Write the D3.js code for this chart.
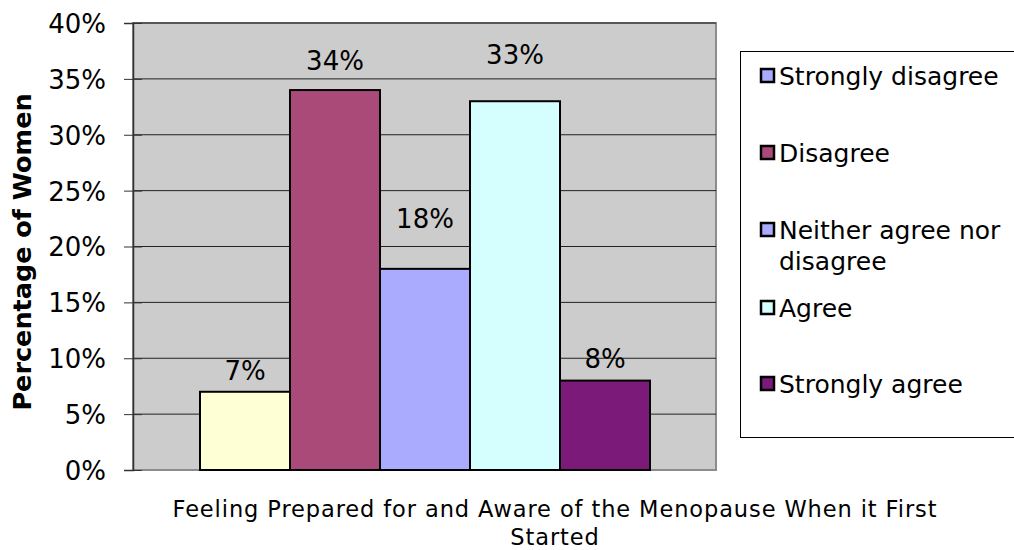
<!DOCTYPE html>
<html lang="en">
<head>
    <meta charset="UTF-8">
    <title>Feeling Prepared for and Aware of the Menopause</title>
    <script src="https://d3js.org/d3.v7.min.js"></script>
    <style>
        body { margin: 0; background: white; overflow: hidden; }
        text { font-family: "DejaVu Sans", Verdana, sans-serif; fill: #000; }
    </style>
</head>
<body>
    <svg id="chart"></svg>
    <script>
        // data
        var categories = ["Strongly disagree", "Disagree", "Neither agree nor disagree", "Agree", "Strongly agree"];
        var values = [7, 34, 18, 33, 8];
        var barColors = ["#FFFFD5", "#AA4A78", "#AAAAFF", "#D5FFFF", "#7B1A79"];
        var legendColors = ["#AAAAFF", "#AA4A78", "#AAAAFF", "#D5FFFF", "#7B1A79"];
        var yTicks = [0, 5, 10, 15, 20, 25, 30, 35, 40];

        // how far each value label sits above its bar (layout only)
        var labelLift = [12, 20, 41, 37, 13];

        var width = 1014, height = 550;
        var svg = d3.select("#chart").attr("width", width).attr("height", height);

        var plot = { left: 133, top: 23, right: 716, bottom: 470 };

        var y = d3.scaleLinear().domain([0, 40]).range([plot.bottom, plot.top]);
        var x = d3.scaleBand().domain(categories).range([200, 650]).padding(0);

        // plot background
        svg.append("rect")
            .attr("x", plot.left).attr("y", plot.top)
            .attr("width", plot.right - plot.left).attr("height", plot.bottom - plot.top)
            .attr("fill", "#CCCCCC").attr("stroke", "#8C8C8C").attr("stroke-width", 2);

        // gridlines
        svg.append("g").selectAll("line")
            .data(yTicks.slice(1))
            .enter().append("line")
            .attr("x1", plot.left).attr("x2", plot.right)
            .attr("y1", d => y(d)).attr("y2", d => y(d))
            .attr("stroke", "#222").attr("stroke-width", 1);

        // y axis, ticks cross the axis line
        var yAxis = d3.axisLeft(y).tickValues(yTicks).tickSize(9).tickPadding(18)
            .tickFormat(d => d + "%");
        var yg = svg.append("g").attr("transform", "translate(" + plot.left + ",0)").call(yAxis);
        yg.select(".domain").attr("stroke", "#333").attr("stroke-width", 1.5);
        yg.selectAll(".tick line").attr("stroke", "#333").attr("x1", 9);
        yg.selectAll("text").style("font-size", "26px").attr("fill", "#000")
            .attr("dy", "0.36em")
            .style("font-family", "'DejaVu Sans', Verdana, sans-serif");

        // bars
        svg.append("g").selectAll("rect")
            .data(values)
            .enter().append("rect")
            .attr("x", (d, i) => x(categories[i]))
            .attr("y", d => y(d))
            .attr("width", x.bandwidth())
            .attr("height", d => plot.bottom - y(d))
            .attr("fill", (d, i) => barColors[i])
            .attr("stroke", "#000").attr("stroke-width", 2);

        // value labels
        svg.append("g").selectAll("text")
            .data(values)
            .enter().append("text")
            .attr("x", (d, i) => x(categories[i]) + x.bandwidth() / 2)
            .attr("y", (d, i) => y(d) - labelLift[i])
            .attr("text-anchor", "middle")
            .style("font-size", "26px")
            .text(d => d + "%");

        // axis titles
        svg.append("text")
            .attr("transform", "translate(31,252) rotate(-90)")
            .attr("text-anchor", "middle")
            .style("font-size", "25.5px").style("font-weight", "bold")
            .text("Percentage of Women");

        var xTitle = svg.append("text")
            .attr("text-anchor", "middle")
            .style("font-size", "22.5px")
            .style("letter-spacing", "0.9px");
        xTitle.append("tspan").attr("x", 555).attr("y", 517)
            .text("Feeling Prepared for and Aware of the Menopause When it First");
        xTitle.append("tspan").attr("x", 555).attr("y", 545).text("Started");

        // legend
        svg.append("rect")
            .attr("x", 740.5).attr("y", 51.5).attr("width", 290).attr("height", 386)
            .attr("fill", "white").attr("stroke", "#000").attr("stroke-width", 1);

        var legendRows = [
            { lines: ["Strongly disagree"], y: 85 },
            { lines: ["Disagree"], y: 162 },
            { lines: ["Neither agree nor", "disagree"], y: 239 },
            { lines: ["Agree"], y: 317 },
            { lines: ["Strongly agree"], y: 393 }
        ];
        var lg = svg.append("g").selectAll("g")
            .data(legendRows)
            .enter().append("g");
        lg.append("rect")
            .attr("x", 761).attr("y", d => d.y - 16)
            .attr("width", 13).attr("height", 13)
            .attr("fill", (d, i) => legendColors[i])
            .attr("stroke", "#000").attr("stroke-width", 2.5);
        lg.append("text")
            .style("font-size", "25px")
            .each(function (d) {
                var t = d3.select(this);
                d.lines.forEach(function (line, j) {
                    t.append("tspan").attr("x", 779).attr("y", d.y + j * 31).text(line);
                });
            });
    </script>
</body>
</html>
